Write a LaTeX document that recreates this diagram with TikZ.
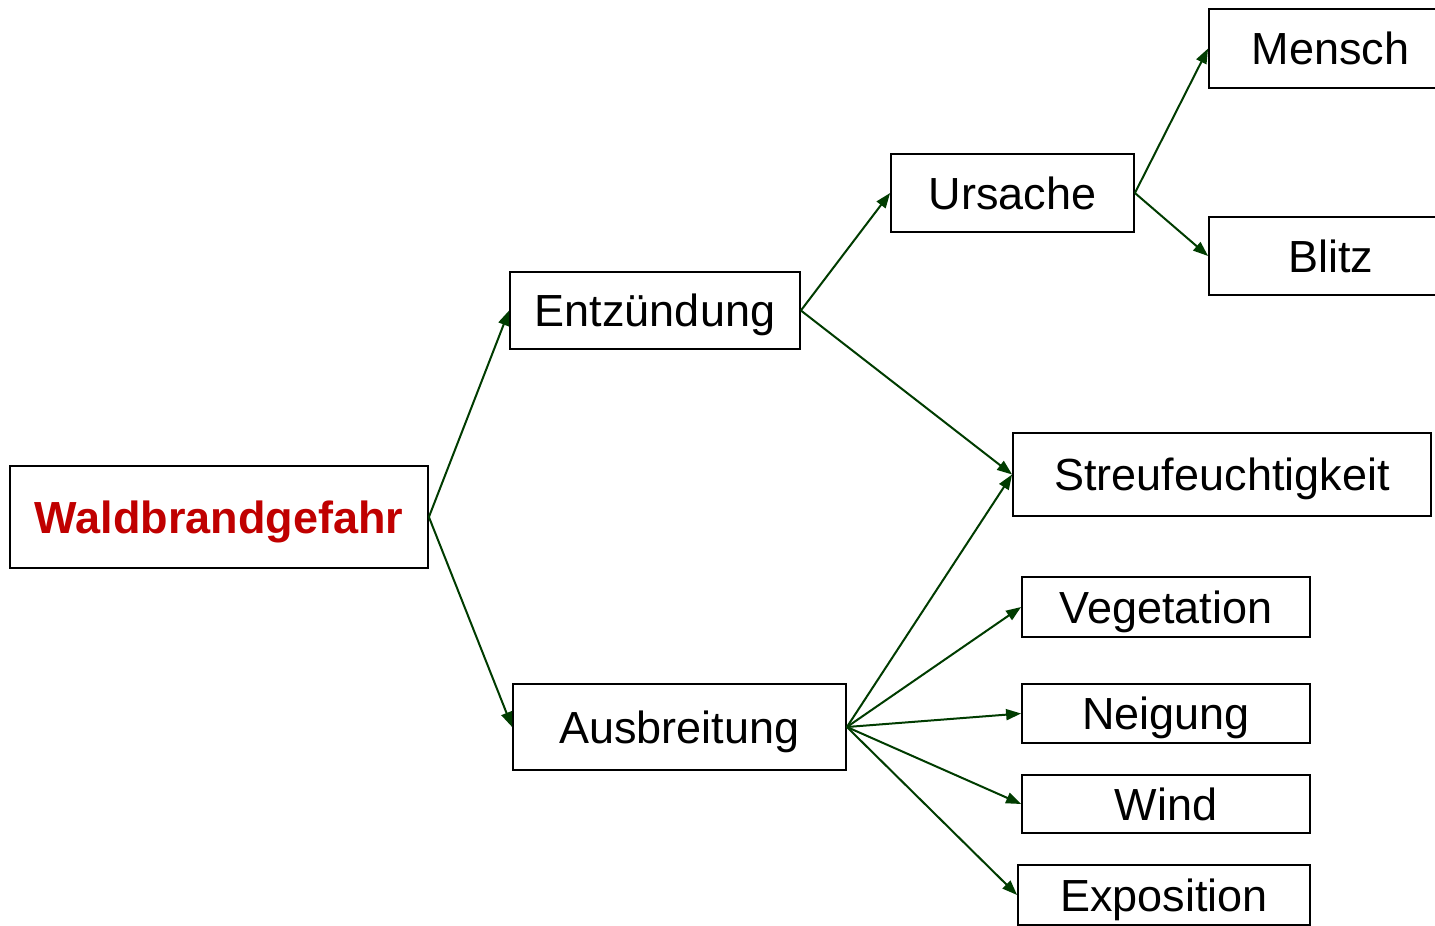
\documentclass[tikz,border=0pt]{standalone}
\usepackage{fontspec}
\setmainfont{Liberation Sans}
\usetikzlibrary{arrows.meta}
\definecolor{arrowgreen}{RGB}{0,60,0}
\definecolor{titlered}{RGB}{192,0,0}
\begin{document}
\begin{tikzpicture}[x=1pt,y=-1pt,
  box/.style={draw=black,line width=1.8pt,inner sep=0pt,text height=32pt,text depth=0pt,
    font=\fontsize{45}{54}\selectfont,anchor=center},
  conn/.style={draw=arrowgreen,line width=2pt,-{Triangle[length=15pt,width=11pt]}}]
\useasboundingbox (0,0) rectangle (1435,926);
\fill[white] (0,0) rectangle (1435,926);
% nodes (center, size)
\node[box,minimum width=418pt,minimum height=102pt,text=titlered,font=\fontsize{45}{54}\selectfont\bfseries] (wg) at (219,517) {Waldbrandgefahr};
\node[box,minimum width=290pt,minimum height=77pt] (ent) at (655,310.5) {Entzündung};
\node[box,minimum width=333pt,minimum height=86pt] (aus) at (679.5,727) {Ausbreitung};
\node[box,minimum width=243pt,minimum height=78pt] (urs) at (1012.5,193) {Ursache};
\node[box,minimum width=243pt,minimum height=79pt] (men) at (1330.5,48.5) {Mensch};
\node[box,minimum width=243pt,minimum height=78pt] (bli) at (1330.5,256) {Blitz};
\node[box,minimum width=418pt,minimum height=83pt] (str) at (1222,474.5) {Streufeuchtigkeit};
\node[box,minimum width=288pt,minimum height=60pt] (veg) at (1166,607) {Vegetation};
\node[box,minimum width=288pt,minimum height=59pt] (nei) at (1166,713.5) {Neigung};
\node[box,minimum width=288pt,minimum height=58pt] (win) at (1166,804) {Wind};
\node[box,minimum width=292pt,minimum height=60pt] (exp) at (1164,895) {Exposition};
% connectors
\draw[conn] (wg.east) -- (ent.west);
\draw[conn] (wg.east) -- (aus.west);
\draw[conn] (ent.east) -- (urs.west);
\draw[conn] (ent.east) -- (str.west);
\draw[conn] (urs.east) -- (men.west);
\draw[conn] (urs.east) -- (bli.west);
\draw[conn] (aus.east) -- (str.west);
\draw[conn] (aus.east) -- (veg.west);
\draw[conn] (aus.east) -- (nei.west);
\draw[conn] (aus.east) -- (win.west);
\draw[conn] (aus.east) -- (exp.west);
\end{tikzpicture}
\end{document}
